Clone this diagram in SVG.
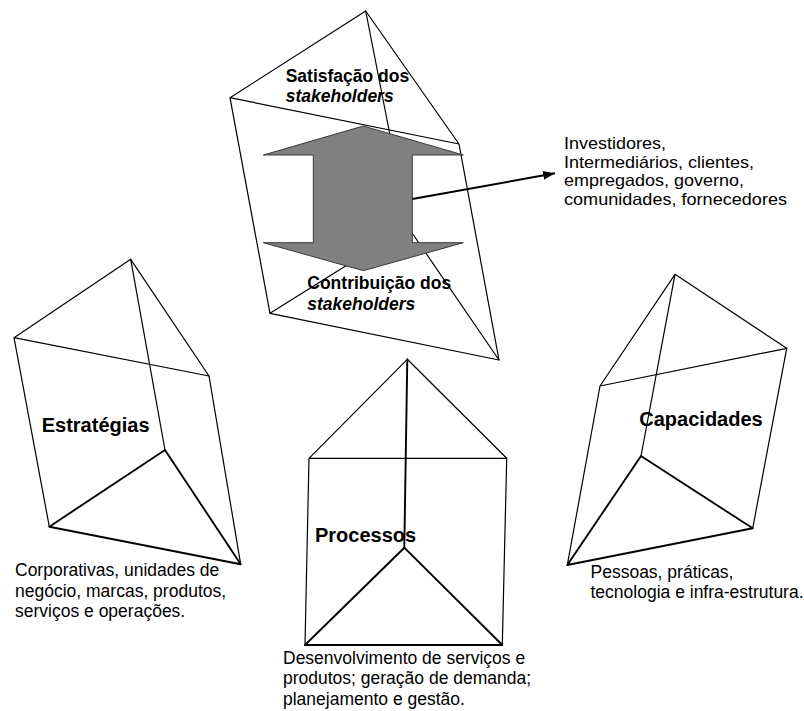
<svg xmlns="http://www.w3.org/2000/svg" width="804" height="711" viewBox="0 0 804 711">
<defs>
<style>
.e{stroke:#000;stroke-width:1.2;fill:none;stroke-linecap:round;stroke-linejoin:round}
.h{stroke:#000;stroke-width:1.9;fill:none;stroke-linecap:round;stroke-linejoin:round}
.lbl{font-family:"Liberation Sans",Arial,sans-serif;font-weight:bold;font-size:20px;fill:#000}
.sl{font-family:"Liberation Sans",Arial,sans-serif;font-weight:bold;font-size:17.5px;fill:#000}
.it{font-style:italic}
.t{font-family:"Liberation Sans",Arial,sans-serif;font-size:17.5px;fill:#000}
.t2{font-family:"Liberation Sans",Arial,sans-serif;font-size:16.5px;fill:#000}
.big{fill:#808080;stroke:#3a3a3a;stroke-width:1}
.ptr{stroke:#000;stroke-width:2;fill:none}
</style>
<marker id="ah" markerUnits="userSpaceOnUse" markerWidth="13" markerHeight="10" refX="12" refY="4.5" orient="auto">
<path d="M0,0 L12,4.5 L0,9 z" fill="#000"/>
</marker>
</defs>
<rect width="804" height="711" fill="#fff"/>

<g id="stakeholders">
<polyline class="e" points="230,97.7 365.7,11 459,144 230,97.7 270,313.3 499,360 459,144"/>
<line class="e" x1="365.7" y1="11" x2="408" y2="227"/>
<line class="e" x1="408" y1="227" x2="270" y2="313.3"/>
<line class="e" x1="408" y1="227" x2="499" y2="360"/>
<path id="dblarrow" class="big" d="M363.3,126 L463.3,155 L412.3,155 L412.3,242.7 L463.3,242.7 L363.3,270.7 L263.3,242.7 L313.3,242.7 L313.3,155 L263.3,155 Z"/>
<text class="sl" x="285.7" y="81.5">Satisfação dos</text>
<text class="sl it" x="285.7" y="101.5">stakeholders</text>
<text class="sl" x="307.3" y="289.3">Contribuição dos</text>
<text class="sl it" x="307.3" y="310">stakeholders</text>
</g>

<g id="estrategias">
<polyline class="e" points="14,337.7 130.7,259.3 209,376 14,337.7 49.3,526.7"/>
<line class="e" x1="209" y1="376" x2="240.7" y2="564.3"/>
<line class="e" x1="130.7" y1="259.3" x2="165" y2="450"/>
<polyline class="h" points="49.3,526.7 165,450 240.7,564.3 49.3,526.7"/>
<text class="lbl" x="41.7" y="432">Estratégias</text>
<text class="t" x="15" y="576">Corporativas, unidades de</text>
<text class="t" x="15" y="596.7">negócio, marcas, produtos,</text>
<text class="t" x="15" y="617.3">serviços e operações.</text>
</g>

<g id="processos">
<polyline class="e" points="309,458.3 407.3,359.3 506.7,458.3 309,458.3 305,645"/>
<line class="e" x1="506.7" y1="458.3" x2="502.3" y2="645"/>
<line class="h" x1="407.3" y1="359.3" x2="404.3" y2="547.7"/>
<polyline class="h" points="305,645 404.3,547.7 502.3,645 305,645"/>
<text class="lbl" x="315" y="541.7">Processos</text>
<text class="t" x="283" y="663.5">Desenvolvimento de serviços e</text>
<text class="t" x="283" y="684">produtos; geração de demanda;</text>
<text class="t" x="283" y="704.5">planejamento e gestão.</text>
</g>

<g id="capacidades">
<polyline class="e" points="600,386 675,274.3 786.7,348.3 600,386 567.3,565"/>
<line class="e" x1="786.7" y1="348.3" x2="752.7" y2="528.3"/>
<line class="e" x1="675" y1="274.3" x2="641" y2="456"/>
<polyline class="h" points="567.3,565 641,456 752.7,528.3 567.3,565"/>
<text class="lbl" x="639.3" y="425.7">Capacidades</text>
<text class="t" x="590.5" y="577.5">Pessoas, práticas,</text>
<text class="t" x="590.5" y="598.3">tecnologia e infra-estrutura.</text>
</g>

<g id="stakeholder-list">
<text class="t2" x="564" y="149" textLength="102" lengthAdjust="spacingAndGlyphs">Investidores,</text>
<text class="t2" x="564" y="167.5" textLength="190" lengthAdjust="spacingAndGlyphs">Intermediários, clientes,</text>
<text class="t2" x="564" y="186" textLength="180" lengthAdjust="spacingAndGlyphs">empregados, governo,</text>
<text class="t2" x="564" y="204.5" textLength="223" lengthAdjust="spacingAndGlyphs">comunidades, fornecedores</text>
</g>

<g id="connectors">
<line class="ptr" x1="412.3" y1="199" x2="555" y2="173.3" marker-end="url(#ah)"/>
</g>
</svg>
